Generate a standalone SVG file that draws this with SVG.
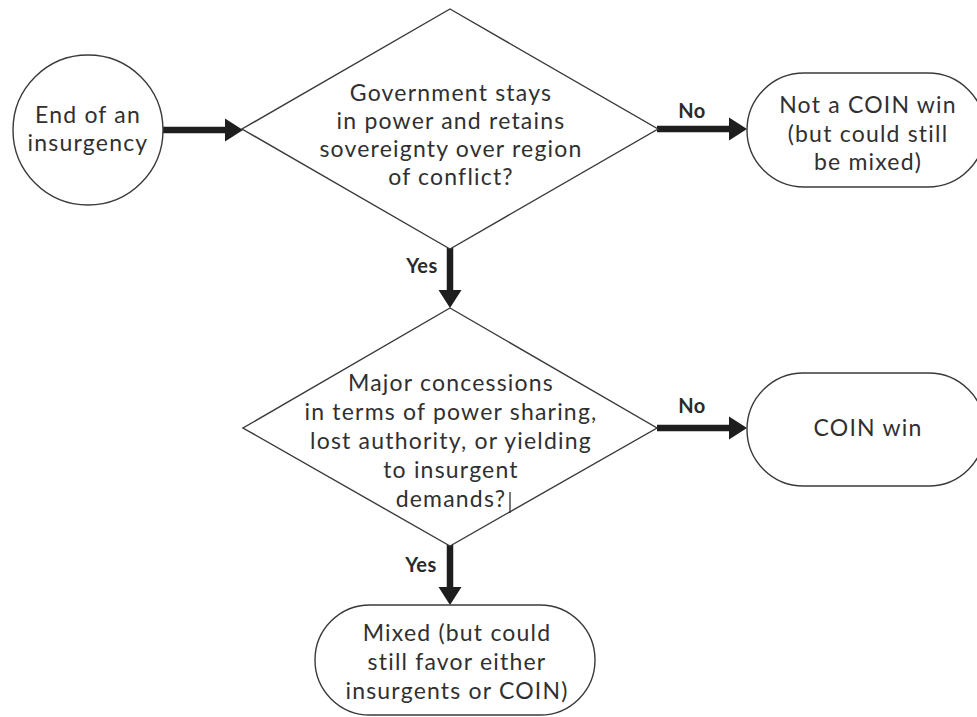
<svg xmlns="http://www.w3.org/2000/svg" width="977" height="717" viewBox="0 0 977 717">
  <style>
    .shape { fill: #ffffff; stroke: #3a3a3a; stroke-width: 1.4; }
    .txt { font-family: Lato, "Open Sans", "Liberation Sans", sans-serif; font-size: 23px; letter-spacing: 1.2px; fill: #303030; text-anchor: middle; }
    .lbl { font-family: Lato, "Open Sans", "Liberation Sans", sans-serif; font-size: 20px; font-weight: bold; letter-spacing: 0.5px; fill: #2a2a2a; text-anchor: middle; }
    .conn { stroke: #1e1e1e; stroke-width: 6.5; fill: none; }
    .head { fill: #1e1e1e; }
  </style>
  <rect x="0" y="0" width="977" height="717" fill="#ffffff"/>

  <g id="connectors">
    <line class="conn" x1="163" y1="130" x2="228" y2="130"/>
    <polygon class="head" points="225,118.5 243,130 225,141.5"/>

    <line class="conn" x1="657" y1="129" x2="732" y2="129"/>
    <polygon class="head" points="729,117.5 747,129 729,140.5"/>

    <line class="conn" x1="450" y1="248" x2="450" y2="293"/>
    <polygon class="head" points="438.5,290 450,308 461.5,290"/>

    <line class="conn" x1="657" y1="428" x2="732" y2="428"/>
    <polygon class="head" points="729,416.5 747,428 729,439.5"/>

    <line class="conn" x1="450" y1="545" x2="450" y2="590"/>
    <polygon class="head" points="438.5,587 450,605 461.5,587"/>

    <text class="lbl" x="692" y="118">No</text>
    <text class="lbl" x="692" y="413">No</text>
    <text class="lbl" x="422" y="273">Yes</text>
    <text class="lbl" x="421" y="572">Yes</text>
  </g>

  <g id="start">
    <circle class="shape" cx="88" cy="130" r="75"/>
    <text class="txt" x="88" y="123">End of an</text>
    <text class="txt" x="88" y="151">insurgency</text>
  </g>

  <g id="decision1">
    <polygon class="shape" points="450,9 658,129 450,249 242,129"/>
    <text class="txt" x="451" y="101">Government stays</text>
    <text class="txt" x="451" y="129">in power and retains</text>
    <text class="txt" x="451" y="157">sovereignty over region</text>
    <text class="txt" x="451" y="185">of conflict?</text>
  </g>

  <g id="not-coin-win">
    <rect class="shape" x="747" y="73" width="238" height="114" rx="57" ry="57"/>
    <text class="txt" x="868" y="113">Not a COIN win</text>
    <text class="txt" x="868" y="142">(but could still</text>
    <text class="txt" x="868" y="170">be mixed)</text>
  </g>

  <g id="decision2">
    <polygon class="shape" points="450,308 657,428 450,546 243,428"/>
    <text class="txt" x="451" y="391">Major concessions</text>
    <text class="txt" x="451" y="420">in terms of power sharing,</text>
    <text class="txt" x="451" y="449">lost authority, or yielding</text>
    <text class="txt" x="451" y="478">to insurgent</text>
    <text class="txt" x="451" y="507">demands?</text>
    <line x1="510" y1="492" x2="510" y2="513" stroke="#222222" stroke-width="1.2"/>
  </g>

  <g id="coin-win">
    <rect class="shape" x="747" y="373" width="238" height="113" rx="56.5" ry="56.5"/>
    <text class="txt" x="868" y="436">COIN win</text>
  </g>

  <g id="mixed">
    <rect class="shape" x="315" y="605" width="280" height="110" rx="55" ry="55"/>
    <text class="txt" x="457" y="641">Mixed (but could</text>
    <text class="txt" x="457" y="670">still favor either</text>
    <text class="txt" x="457" y="699">insurgents or COIN)</text>
  </g>
</svg>
